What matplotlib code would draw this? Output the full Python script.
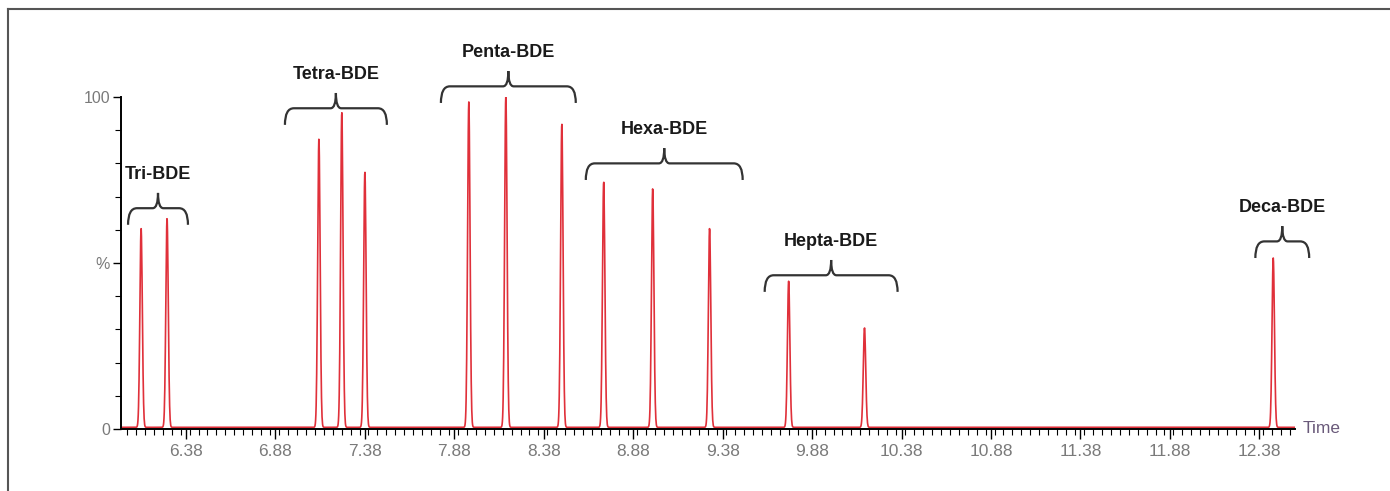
import numpy as np
import matplotlib.pyplot as plt
from matplotlib.path import Path
from matplotlib.patches import PathPatch
from matplotlib.lines import Line2D
from matplotlib.ticker import MultipleLocator, FixedLocator

plt.rcParams['font.family'] = ['Liberation Sans', 'DejaVu Sans']

# peak retention times (min) and relative intensities (%)
peak_times = [6.129, 6.274, 7.123, 7.251, 7.380, 7.961, 8.168, 8.481,
              8.715, 8.989, 9.307, 9.749, 10.173, 12.458]
peak_heights = [60, 63, 87, 95, 77, 98, 100, 91.5, 74, 72, 60, 44, 30, 51]

# congener groups: label, brace start, brace end, brace base level
group_labels = ["Tri-BDE", "Tetra-BDE", "Penta-BDE", "Hexa-BDE", "Hepta-BDE", "Deca-BDE"]
group_start = [6.056, 6.933, 7.805, 8.615, 9.615, 12.358]
group_end = [6.391, 7.503, 8.559, 9.492, 10.358, 12.659]
group_level = [61.5, 91.6, 98.2, 75.0, 41.3, 51.5]

x_ticks = [6.38, 6.88, 7.38, 7.88, 8.38, 8.88, 9.38, 9.88, 10.38, 10.88, 11.38, 11.88, 12.38]

# build the trace from the peak table
t = np.arange(6.017, 12.58, 0.0015)
signal = np.full_like(t, 0.5)
for pt, ph in zip(peak_times, peak_heights):
    signal += ph * np.exp(-0.5 * ((t - pt) / 0.0068) ** 2)

fig = plt.figure(figsize=(13.9, 4.91), dpi=100)
ax = fig.add_axes([0.0871, 0.1263, 0.8446, 0.6762])

ax.plot(t, signal, color='#e0303a', lw=1.2)

ax.set_xlim(6.017, 12.58)
ax.set_ylim(0, 100)
ax.spines['top'].set_visible(False)
ax.spines['right'].set_visible(False)
ax.spines['left'].set_linewidth(1.4)
ax.spines['bottom'].set_linewidth(1.4)

ax.xaxis.set_major_locator(FixedLocator(x_ticks))
ax.set_xticklabels([f"{v:.2f}" for v in x_ticks])
ax.xaxis.set_minor_locator(MultipleLocator(0.05))
ax.yaxis.set_major_locator(FixedLocator([0, 50, 100]))
ax.set_yticklabels(["0", "%", "100"])
ax.yaxis.set_minor_locator(MultipleLocator(10))
ax.tick_params(axis='x', which='major', length=7, width=1, labelsize=12.5,
               labelcolor='#7a7a7a', pad=4)
ax.tick_params(axis='x', which='minor', length=4, width=0.8)
ax.tick_params(axis='y', which='major', length=6, width=1, labelsize=11.5,
               labelcolor='#7a7a7a', pad=2)
ax.tick_params(axis='y', which='minor', length=4, width=0.8)

ax.text(12.62, 0, "Time", color='#6a5a7a', fontsize=12.5, va='center', ha='left',
        clip_on=False)


def brace(x0, x1, y0):
    xm = (x0 + x1) / 2
    yf = y0 + 5.0
    yt = yf + 4.6
    rx = 0.05
    rt = 0.03
    verts = [(x0, y0), (x0, yf), (x0 + rx, yf), (xm - rt, yf), (xm, yf), (xm, yt),
             (x1, y0), (x1, yf), (x1 - rx, yf), (xm + rt, yf), (xm, yf), (xm, yt)]
    codes = [Path.MOVETO, Path.CURVE3, Path.CURVE3, Path.LINETO, Path.CURVE3, Path.CURVE3] * 2
    ax.add_patch(PathPatch(Path(verts, codes), fill=False, ec='#333333', lw=1.6,
                           clip_on=False))
    return xm, yt


for lab, x0, x1, y0 in zip(group_labels, group_start, group_end, group_level):
    xm, yt = brace(x0, x1, y0)
    ax.text(xm, yt + 3.0, lab, ha='center', va='bottom', fontsize=13,
            fontweight='bold', color='#1a1a1a', clip_on=False)

# frame lines on the top and left of the figure
fig.add_artist(Line2D([8 / 1390, 8 / 1390], [0, 1 - 9 / 491], transform=fig.transFigure,
                      color='#555555', lw=1.5))
fig.add_artist(Line2D([8 / 1390, 1], [1 - 9 / 491, 1 - 9 / 491], transform=fig.transFigure,
                      color='#555555', lw=1.5))

fig.savefig("out.png", dpi=100)
